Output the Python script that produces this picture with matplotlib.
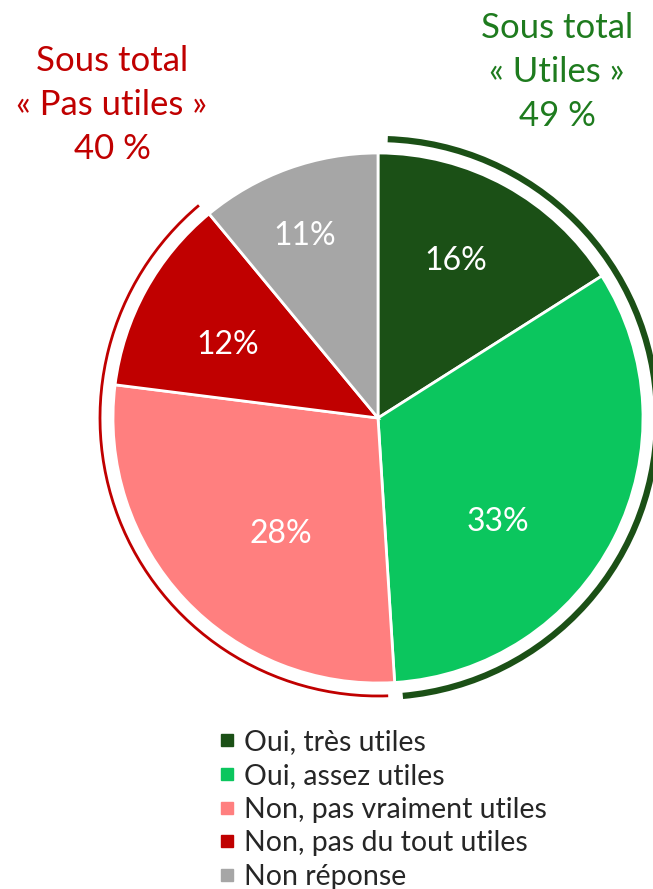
import numpy as np
import matplotlib.pyplot as plt
from matplotlib.patches import Arc
from matplotlib.lines import Line2D

plt.rcParams['font.family'] = ['Lato', 'DejaVu Sans']

# data
categories = ["Oui, très utiles", "Oui, assez utiles", "Non, pas vraiment utiles",
              "Non, pas du tout utiles", "Non réponse"]
values = [16, 33, 28, 12, 11]
colors = ["#1B5016", "#0BC65E", "#FF7F7F", "#C00000", "#A6A6A6"]
total_utiles = 49
total_pas_utiles = 40

# label placement tweaks (fraction of radius, angle shift in degrees)
label_dist = [0.66, 0.60, 0.57, 0.63, 0.74]
label_shift = [2.5, -14, 7, 3, 2]

fig = plt.figure(figsize=(6.53, 8.89), dpi=100)
ax = fig.add_axes([0, 0, 1, 1])
ax.axis('off')

cx, cy, r = 378, 471, 265
wedges, _ = ax.pie(values, colors=colors, startangle=90, counterclock=False,
                   center=(cx, cy), radius=r,
                   wedgeprops=dict(edgecolor='white', linewidth=2))
ax.set_xlim(0, 653)
ax.set_ylim(0, 889)
ax.set_aspect('equal')

for w, v, d, sh in zip(wedges, values, label_dist, label_shift):
    ang = np.deg2rad((w.theta1 + w.theta2) / 2 + sh)
    ax.text(cx + d * r * np.cos(ang), cy + d * r * np.sin(ang), "%d%%" % v,
            ha='center', va='center', color='white', fontsize=23)

# outer arcs for the two subtotals
s = sum(values)
a_util = 360 * (values[0] + values[1]) / s
a_pas = 360 * (values[2] + values[3]) / s
ax.add_patch(Arc((cx, cy), 2 * 279, 2 * 279, theta1=90 - a_util + 1.5, theta2=90 - 2,
                 color="#1B5016", linewidth=4.5))
ax.add_patch(Arc((cx, cy), 2 * 278, 2 * 278, theta1=90 - a_util - a_pas + 0.5,
                 theta2=90 - a_util - 1.5, color="#C00000", linewidth=2))

ax.text(557, 889 - 72, "Sous total\n« Utiles »\n%d %%" % total_utiles,
        ha='center', va='center', color="#1E7B1E", fontsize=25, linespacing=1.45)
ax.text(112, 889 - 105, "Sous total\n« Pas utiles »\n%d %%" % total_pas_utiles,
        ha='center', va='center', color="#C00000", fontsize=25, linespacing=1.45)

handles = [Line2D([], [], marker='s', linestyle='', markersize=9, color=c) for c in colors]
ax.legend(handles, categories, loc='upper left', bbox_to_anchor=(207 / 653, 1 - 718 / 889),
          frameon=False, fontsize=20.5, handlelength=0.6, handletextpad=0.3,
          labelspacing=0.27, borderaxespad=0, labelcolor='#262626')

fig.savefig("out.png", dpi=100)
